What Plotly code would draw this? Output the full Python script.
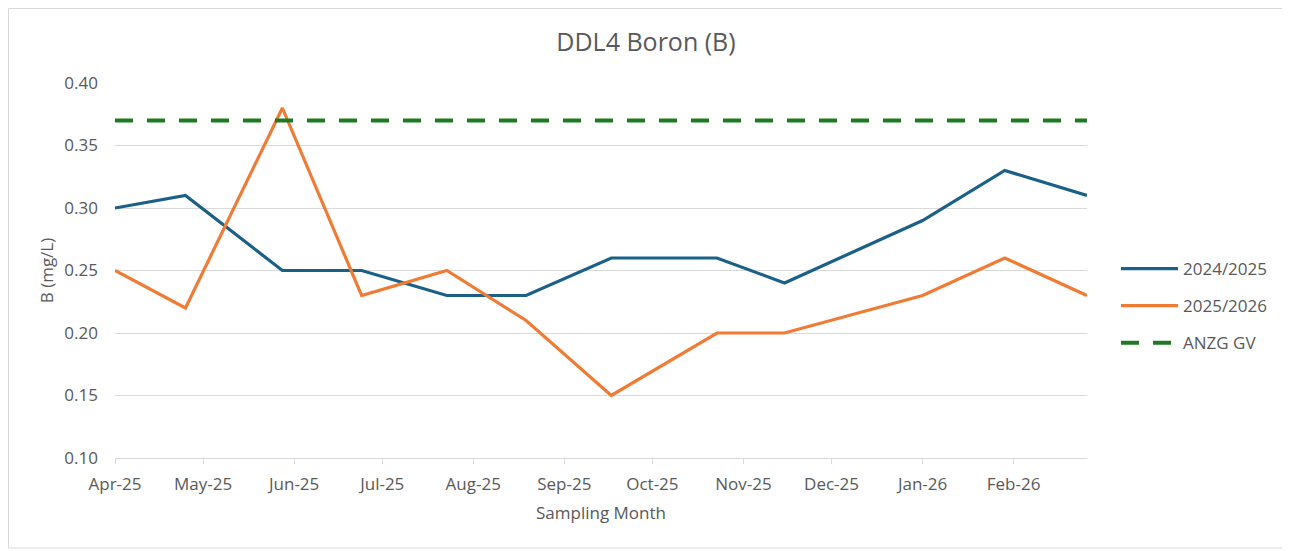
import plotly.graph_objects as go

sample_dates = ["2025-04-01", "2025-04-25", "2025-05-28", "2025-06-24", "2025-07-23",
                "2025-08-19", "2025-09-17", "2025-10-23", "2025-11-15", "2026-01-01",
                "2026-01-29", "2026-02-26"]
b_2024_2025 = [0.30, 0.31, 0.25, 0.25, 0.23, 0.23, 0.26, 0.26, 0.24, 0.29, 0.33, 0.31]
b_2025_2026 = [0.25, 0.22, 0.38, 0.23, 0.25, 0.21, 0.15, 0.20, 0.20, 0.23, 0.26, 0.23]
anzg_gv = 0.37

W, H = 1290, 551
OFF = 8  # page body margin
L, R, T, B = 115 - OFF, 1290 - 1087 + OFF, 83 - OFF, 551 - 458 + OFF
pw, ph = W - L - R, H - T - B

fig = go.Figure()
fig.add_trace(go.Scatter(x=sample_dates, y=b_2024_2025, mode="lines", name="2024/2025",
                         legendgroup="a", line=dict(color="#1B6086", width=3.2)))
fig.add_trace(go.Scatter(x=sample_dates, y=b_2025_2026, mode="lines", name="2025/2026",
                         legendgroup="b", line=dict(color="#F07B35", width=3.2)))
fig.add_trace(go.Scatter(x=[sample_dates[0], sample_dates[-1]], y=[anzg_gv, anzg_gv],
                         mode="lines", name="ANZG GV", legendgroup="c",
                         line=dict(color="#1E7A22", width=4.2, dash="18px,14px")))

grey = "#595959"
fig.update_layout(
    width=W, height=H,
    margin=dict(l=L, r=R, t=T, b=B),
    paper_bgcolor="white", plot_bgcolor="white",
    font=dict(family="Open Sans", size=17, color=grey),
    title=dict(text="DDL4 Boron (B)", x=(646 - OFF) / W, xanchor="center",
               y=1 - (42 - OFF) / H, yanchor="middle", font=dict(size=25, color=grey)),
    xaxis=dict(type="date", range=[sample_dates[0], sample_dates[-1]],
               tick0="2025-04-01", dtick="M1", tickformat="%b-%y",
               showgrid=False, showline=True, linecolor="#D9D9D9", linewidth=1,
               ticks="outside", ticklen=5, tickcolor="#D9D9D9",
               ticklabelstandoff=6,
               tickfont=dict(size=17, color=grey),
               title=dict(text="Sampling Month", font=dict(size=17, color=grey), standoff=12)),
    yaxis=dict(range=[0.10, 0.40], dtick=0.05, tickformat=".2f",
               showgrid=True, gridcolor="#D9D9D9", gridwidth=1, zeroline=False,
               tickfont=dict(size=17, color=grey), ticklabelstandoff=16,
               title=dict(text="B (mg/L)", font=dict(size=17, color=grey), standoff=6)),
    legend=dict(x=(1116 - OFF - L) / pw, xanchor="left",
                y=(H - B - (306 - OFF)) / ph, yanchor="middle",
                itemwidth=57, traceorder="grouped", tracegroupgap=12,
                font=dict(size=17, color=grey), bgcolor="rgba(0,0,0,0)"),
    showlegend=True,
)
fig.add_shape(type="rect", xref="paper", yref="paper",
              x0=(0.5 - L) / pw, x1=(1287 - OFF - L) / pw,
              y0=(H - B - (548 - OFF)) / ph, y1=(H - B - 0.5) / ph,
              line=dict(color="#D9D9D9", width=1), layer="below")

fig.write_html("out.html")
